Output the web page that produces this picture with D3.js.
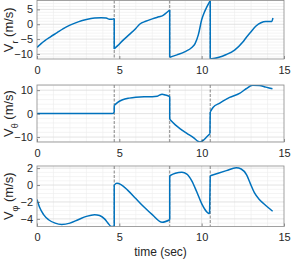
<!DOCTYPE html>
<html>
<head>
<meta charset="utf-8">
<script src="https://cdn.jsdelivr.net/npm/d3@7"></script>
<style>
  body { margin: 0; background: #fff; }
  svg { font-family: "Liberation Sans", Arial, sans-serif; }
</style>
</head>
<body>
<svg id="chart" width="291" height="260"></svg>
<script>
// [time, value] samples, jumps as repeated times
const vr = [[0,-7.8],[0.25,-6.5],[0.5,-5.4],[0.8,-4.3],[1.2,-2.9],[1.6,-1.5],[2,-0.3],[2.5,0.8],[3,1.6],[3.5,2.1],[3.9,2.2],[4.2,2.1],[4.4,1.7],[4.55,1.7],[4.69,1.9],
  [4.69,-8.3],[4.9,-7.2],[5.2,-5.5],[5.6,-3.5],[6,-1.4],[6.25,0.1],[6.6,1],[7,1.8],[7.4,2.5],[7.63,2.9],[7.8,3.6],[8.06,4.8],
  [8.06,-11.1],[8.5,-10.3],[9,-9.2],[9.4,-7.8],[9.6,-6.5],[9.8,-3.5],[10,1.5],[10.2,4.5],[10.52,8],
  [10.52,-11.7],[11,-11.2],[11.5,-10.2],[12,-8.7],[12.5,-6],[12.73,-4.3],[13,-2.5],[13.3,-0.6],[13.6,0.5],[13.9,0.9],[14.25,0.9],[14.33,2.1]]
const vtheta = [[0,0],[4.5,0],[4.62,0.1],[4.69,0.6],
  [4.69,3.5],[4.9,4.8],[5.2,5.9],[5.6,6.6],[6,7],[6.5,7.2],[7,7.2],[7.3,7.4],[7.6,8.3],[7.8,7.9],[8.06,7.3],
  [8.06,-2.4],[8.4,-4.8],[8.7,-6.5],[9.1,-8.4],[9.5,-10.2],[9.75,-11.7],[9.9,-12.1],[10.1,-11.4],[10.3,-10],[10.5,-8.6],
  [10.52,0.7],[10.7,2.7],[11.1,4.5],[11.7,6.9],[12.3,8.6],[12.7,10.6],[13.1,12.1],[13.5,12.0],[13.9,11.3],[14.3,10.6]]
const vphi = [[0,-1.7],[0.15,-2.6],[0.4,-3.5],[0.7,-4.1],[1.1,-4.5],[1.5,-4.65],[2,-4.5],[2.5,-4.1],[3,-3.7],[3.5,-3.5],[3.8,-3.6],[4.1,-4.0],[4.35,-4.6],[4.5,-4.9],[4.69,-4.9],
  [4.69,0],[4.85,0.2],[5.1,0.05],[5.5,-0.6],[6,-1.6],[6.5,-2.6],[7,-3.5],[7.6,-4.4],[8.06,-4.1],
  [8.06,1.1],[8.4,1.4],[8.8,1.5],[9.1,1.3],[9.4,0.5],[9.7,-0.8],[10,-2.2],[10.3,-3.15],[10.48,-3.4],
  [10.52,1.1],[11,1.4],[11.5,1.7],[12.1,2.05],[12.4,1.9],[12.73,1.2],[12.95,0.2],[13.2,-0.9],[13.5,-1.7],[13.74,-2.15],[14,-2.6],[14.31,-3.1]]

const switchTimes = [4.69, 8.06, 10.52]
const xTicks = [0, 5, 10, 15]

const panels = [
  { data: vr, sub: 'r', domain: [-11.7, 8], ticks: [-10, -5, 0, 5], minor: 1, top: 0.5, bottom: 59 },
  { data: vtheta, sub: 'θ', domain: [-12.1, 12.2], ticks: [-10, 0, 10], minor: 2, top: 85, bottom: 142 },
  { data: vphi, sub: 'φ', domain: [-4.9, 2.25], ticks: [-4, -2, 0, 2], minor: 0.5, top: 166, bottom: 226.5 }
]

// split samples into smooth pieces wherever the time drops back or repeats
const splitAtJumps = (data) => {
  const segs = [[data[0]]]
  for (let k = 1; k < data.length; k++) {
    if (data[k][0] - data[k - 1][0] < 0.045) segs.push([])
    segs[segs.length - 1].push(data[k])
  }
  return segs
}

const svg = d3.select('#chart')
const x = d3.scaleLinear().domain([0, 15]).range([37, 284])

panels.forEach((p, i) => {
  const y = d3.scaleLinear().domain(p.domain).range([p.bottom, p.top])
  const g = svg.append('g')
  const clipId = 'clip' + i
  g.append('clipPath').attr('id', clipId)
    .append('rect').attr('x', x(0)).attr('y', p.top).attr('width', x(15) - x(0)).attr('height', p.bottom - p.top)

  // minor grid
  const minorX = d3.range(0, 15.01, 1).filter((t) => t % 5 !== 0)
  g.selectAll('.mx').data(minorX).enter().append('line')
    .attr('x1', (d) => x(d)).attr('x2', (d) => x(d)).attr('y1', p.top).attr('y2', p.bottom)
    .attr('stroke', '#ececec').attr('stroke-width', 0.6)
  const minorY = d3.range(Math.ceil(p.domain[0] / p.minor) * p.minor, p.domain[1], p.minor)
    .filter((v) => !p.ticks.some((t) => Math.abs(t - v) < 1e-6))
  g.selectAll('.my').data(minorY).enter().append('line')
    .attr('x1', x(0)).attr('x2', x(15)).attr('y1', (d) => y(d)).attr('y2', (d) => y(d))
    .attr('stroke', '#ececec').attr('stroke-width', 0.6)

  // major grid
  g.selectAll('.gx').data(xTicks.slice(1, -1)).enter().append('line')
    .attr('x1', (d) => x(d)).attr('x2', (d) => x(d)).attr('y1', p.top).attr('y2', p.bottom)
    .attr('stroke', '#dcdcdc').attr('stroke-width', 0.8)
  g.selectAll('.gy').data(p.ticks).enter().append('line')
    .attr('x1', x(0)).attr('x2', x(15)).attr('y1', (d) => y(d)).attr('y2', (d) => y(d))
    .attr('stroke', '#dcdcdc').attr('stroke-width', 0.8)

  // switch lines
  g.selectAll('.sw').data(switchTimes).enter().append('line')
    .attr('x1', (d) => x(d)).attr('x2', (d) => x(d)).attr('y1', p.top).attr('y2', p.bottom)
    .attr('stroke', '#666').attr('stroke-width', 0.8).attr('stroke-dasharray', '3,1.5')

  // data line: smooth pieces + straight jumps
  const segs = splitAtJumps(p.data)
  const smooth = d3.line().x((d) => x(d[0])).y((d) => y(d[1])).curve(d3.curveMonotoneX)
  const straight = d3.line().x((d) => x(d[0])).y((d) => y(d[1]))
  const plot = g.append('g').attr('clip-path', `url(#${clipId})`)
  plot.selectAll('.seg').data(segs).enter().append('path')
    .attr('d', smooth)
    .attr('fill', 'none').attr('stroke', '#0072BD').attr('stroke-width', 1.5)
  plot.selectAll('.jump').data(segs.slice(1).map((s, k) => [segs[k][segs[k].length - 1], s[0]])).enter().append('path')
    .attr('d', straight)
    .attr('fill', 'none').attr('stroke', '#0072BD').attr('stroke-width', 1.5)

  // axes
  const ax = d3.axisBottom(x).tickValues(xTicks).tickSize(-3).tickPadding(7)
  g.append('g').attr('transform', `translate(0,${p.bottom})`).call(ax)
  const ay = d3.axisLeft(y).tickValues(p.ticks).tickSize(-3).tickPadding(4)
  g.append('g').attr('transform', `translate(${x(0)},0)`).call(ay)
  g.selectAll('.domain').remove()
  g.selectAll('.tick line').attr('stroke', '#444').attr('stroke-width', 0.6)
  g.selectAll('.tick text').attr('fill', '#262626').style('font-size', '11px')
    .style('font-family', '"Liberation Sans", Arial, sans-serif')

  g.append('rect').attr('x', x(0)).attr('y', p.top).attr('width', x(15) - x(0)).attr('height', p.bottom - p.top)
    .attr('fill', 'none').attr('stroke', '#8a8a8a').attr('stroke-width', 0.8)

  // y label
  const lab = g.append('text')
    .attr('transform', `translate(13,${(p.top + p.bottom) / 2}) rotate(-90)`)
    .attr('text-anchor', 'middle').attr('fill', '#262626').style('font-size', '13px')
  lab.append('tspan').text('V')
  lab.append('tspan').attr('dy', 5).style('font-size', '9px').text(p.sub)
  lab.append('tspan').attr('dy', -5).text(' (m/s)')
})

svg.append('text').attr('x', x(7.5)).attr('y', 256).attr('text-anchor', 'middle')
  .attr('fill', '#262626').style('font-size', '12px').text('time (sec)')
</script>
</body>
</html>
